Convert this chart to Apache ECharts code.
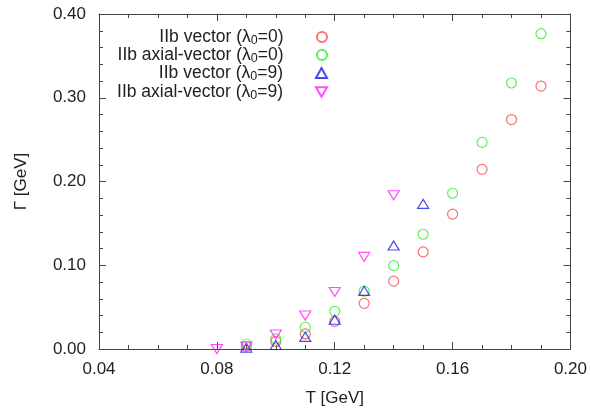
<!DOCTYPE html>
<html>
<head>
<meta charset="utf-8">
<script src="https://cdn.jsdelivr.net/npm/echarts@6/dist/echarts.min.js"></script>
<style>html,body{margin:0;padding:0;background:#fff}#c{width:590px;height:412px}</style>
</head>
<body>
<div id="c"></div>
<script>
// ---- data ----
const seriesNames = ['IIb vector (λ0=0)', 'IIb axial-vector (λ0=0)', 'IIb vector (λ0=9)', 'IIb axial-vector (λ0=9)'];
const tVec0 = [0.09, 0.10, 0.11, 0.12, 0.13, 0.14, 0.15, 0.16, 0.17, 0.18, 0.19];
const gammaVec0 = [0.003, 0.009, 0.018, 0.033, 0.0545, 0.081, 0.116, 0.161, 0.2145, 0.274, 0.314];
const tAx0 = [0.09, 0.10, 0.11, 0.12, 0.13, 0.14, 0.15, 0.16, 0.17, 0.18, 0.19];
const gammaAx0 = [0.006, 0.012, 0.026, 0.045, 0.069, 0.0996, 0.137, 0.186, 0.2467, 0.3176, 0.3765];
const tVec9 = [0.09, 0.10, 0.11, 0.12, 0.13, 0.14, 0.15];
const gammaVec9 = [0.0015, 0.0047, 0.0145, 0.035, 0.0694, 0.1235, 0.1733];
const tAx9 = [0.08, 0.09, 0.10, 0.11, 0.12, 0.13, 0.14];
const gammaAx9 = [0.000, 0.003, 0.0173, 0.040, 0.068, 0.110, 0.1835];
const xTicks = [0.04, 0.08, 0.12, 0.16, 0.20];
const yTicks = [0.00, 0.10, 0.20, 0.30, 0.40];

const colors = ['#ff4a4a', '#33ee33', '#1a1aee', '#ff22ff'];
const symbols = ['circle', 'circle', 'triangle', 'path://M0,0L10,0L5,8.66Z'];
const sizes = [10, 10, [11, 9], [11, 9]];
const xs = [tVec0, tAx0, tVec9, tAx9];
const ys = [gammaVec0, gammaAx0, gammaVec9, gammaAx9];

const FONT = 'Liberation Sans, Arial, sans-serif';
const TXT = '#222';

function legendFmt(name) {
  const m = name.match(/^(.*\(λ)0(=\d\))$/);
  return '{a|' + m[1] + '}{s|0}{a|' + m[2] + '}';
}

const series = seriesNames.map((n, i) => ({
  name: n,
  type: 'scatter',
  clip: false,
  symbol: symbols[i],
  symbolSize: sizes[i],
  data: xs[i].map((x, k) => [x, ys[i][k]]),
  itemStyle: { color: 'rgba(0,0,0,0)', borderColor: colors[i], borderWidth: 1.2 }
}));

const rowTops = [23, 41, 59, 78];
const legends = seriesNames.map((n, i) => ({
  data: [n],
  right: 257,
  top: rowTops[i],
  align: 'right',
  itemWidth: 11,
  itemHeight: 10,
  selectedMode: false,
  formatter: legendFmt,
  textStyle: {
    padding: [0, 28, 0, 0],
    rich: {
      a: { fontSize: 17.5, fontFamily: FONT, color: TXT },
      s: { fontSize: 12.5, fontFamily: FONT, color: TXT, padding: [7, 0, 0, 0] }
    }
  }
}));

const axisCommon = {
  type: 'value',
  axisLine: { show: true, onZero: false, lineStyle: { color: '#444', width: 1 } },
  axisTick: { show: true, inside: true, length: 7, lineStyle: { color: '#444' } },
  minorTick: { show: true, length: 4, lineStyle: { color: '#444' } },
  splitLine: { show: false }
};

const chart = echarts.init(document.getElementById('c'));
chart.setOption({
  backgroundColor: '#fff',
  animation: false,
  grid: { left: 99, right: 19, top: 14, bottom: 58, containLabel: false },
  legend: legends,
  xAxis: [
    Object.assign({}, axisCommon, {
      position: 'bottom', min: xTicks[0], max: xTicks[xTicks.length - 1], interval: 0.04,
      minorTick: Object.assign({}, axisCommon.minorTick, { splitNumber: 4 }),
      axisLabel: { margin: 12, fontSize: 17, fontFamily: FONT, color: TXT, formatter: v => v.toFixed(2) },
      name: 'T [GeV]', nameLocation: 'middle', nameGap: 41,
      nameTextStyle: { fontSize: 17, fontFamily: FONT, color: TXT }
    }),
    Object.assign({}, axisCommon, {
      position: 'top', min: xTicks[0], max: xTicks[xTicks.length - 1], interval: 0.04,
      minorTick: Object.assign({}, axisCommon.minorTick, { splitNumber: 4 }),
      axisLabel: { show: false }
    })
  ],
  yAxis: [
    Object.assign({}, axisCommon, {
      position: 'left', min: yTicks[0], max: yTicks[yTicks.length - 1], interval: 0.1,
      minorTick: Object.assign({}, axisCommon.minorTick, { splitNumber: 5 }),
      axisLabel: { margin: 13, fontSize: 17, fontFamily: FONT, color: TXT, formatter: v => v.toFixed(2) },
      name: 'Γ [GeV]', nameLocation: 'middle', nameGap: 69, nameRotate: 90,
      nameTextStyle: { fontSize: 17, fontFamily: FONT, color: TXT }
    }),
    Object.assign({}, axisCommon, {
      position: 'right', min: yTicks[0], max: yTicks[yTicks.length - 1], interval: 0.1,
      minorTick: Object.assign({}, axisCommon.minorTick, { splitNumber: 5 }),
      axisLabel: { show: false }
    })
  ],
  series: series
});
</script>
</body>
</html>
